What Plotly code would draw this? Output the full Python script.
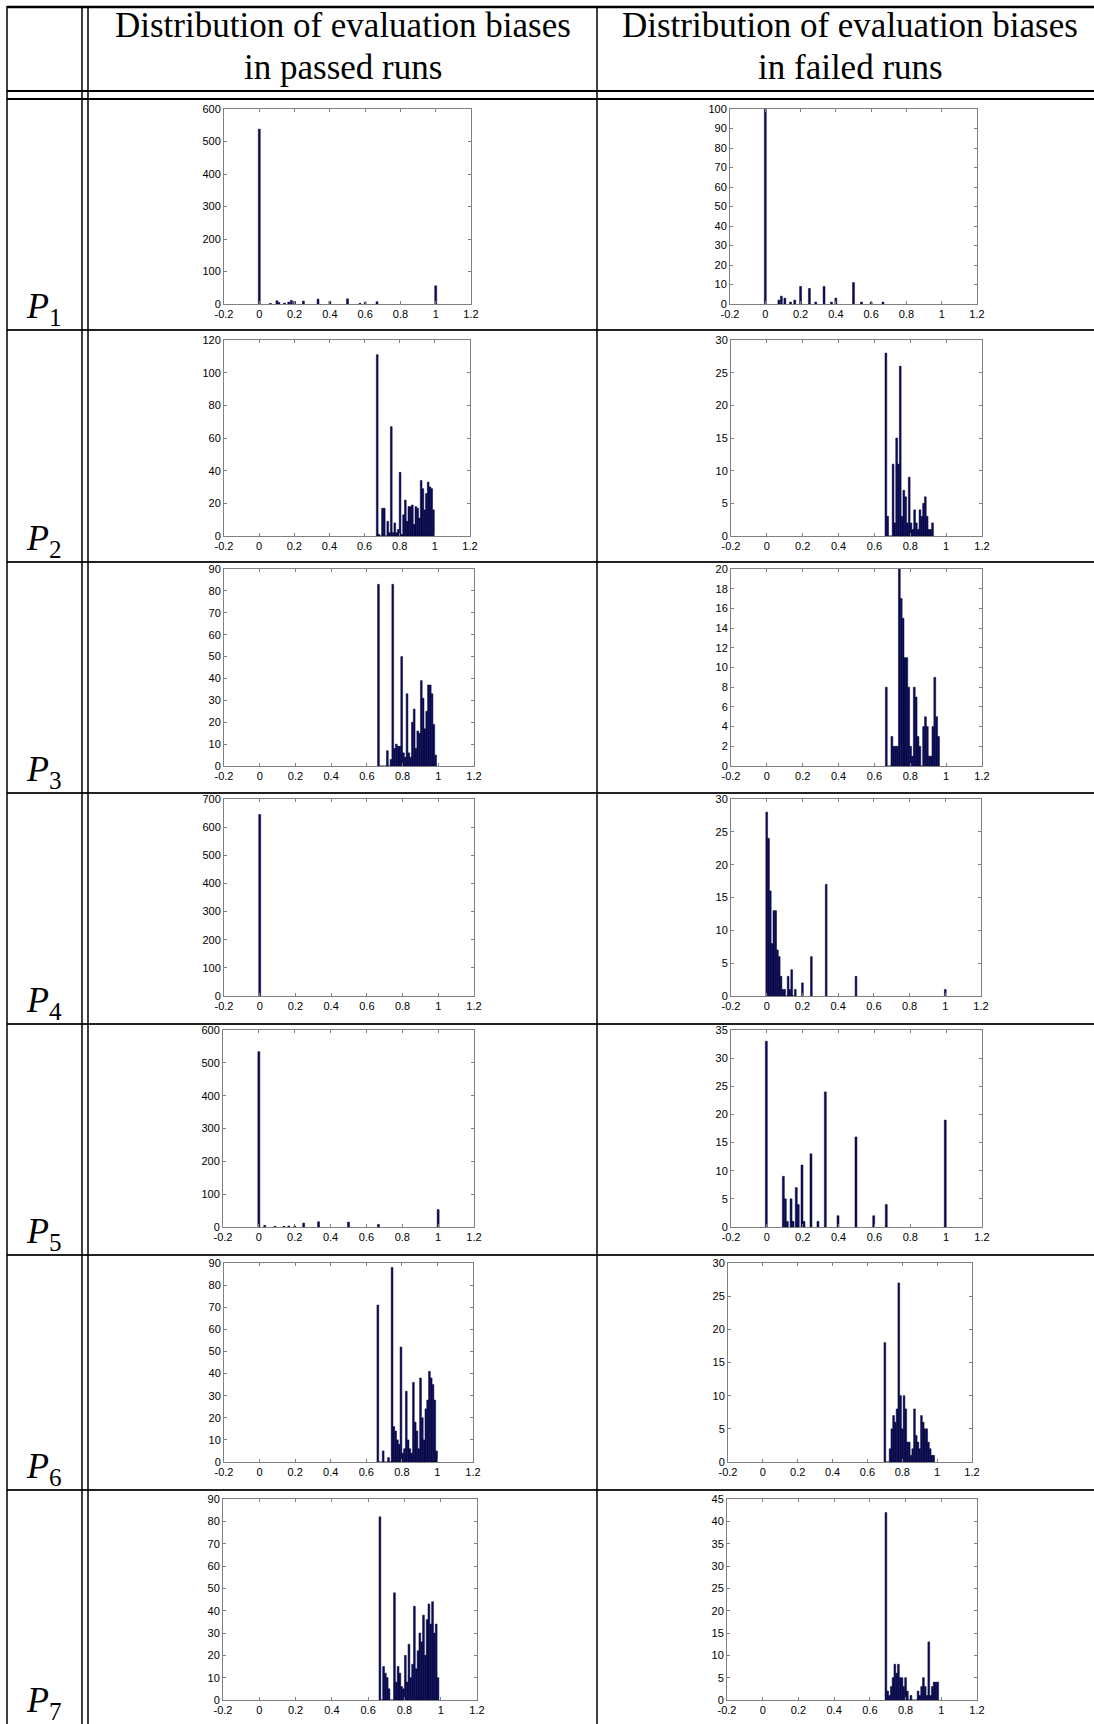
import plotly.graph_objects as go

W, H = 1094, 1724

# ---------------- data ----------------
HEADER_PASSED = ["Distribution of evaluation biases", "in passed runs"]
HEADER_FAILED = ["Distribution of evaluation biases", "in failed runs"]
ROW_LABELS = ["1", "2", "3", "4", "5", "6", "7"]

X_TICKS = [-0.2, 0, 0.2, 0.4, 0.6, 0.8, 1.0, 1.2]
X_TICK_LABELS = ["-0.2", "0", "0.2", "0.4", "0.6", "0.8", "1", "1.2"]

# sparse panels: explicit bias values and counts
P1_PASSED_X = [0, 0.063, 0.1, 0.111, 0.143, 0.167, 0.182, 0.2, 0.25, 0.333, 0.4, 0.5, 0.571, 0.6, 0.667, 1.0]
P1_PASSED_Y = [538, 2, 10, 5, 3, 6, 11, 8, 9, 15, 8, 16, 2, 5, 7, 56]
P1_FAILED_X = [0, 0.077, 0.091, 0.111, 0.143, 0.167, 0.2, 0.25, 0.286, 0.333, 0.375, 0.4, 0.5, 0.545, 0.6, 0.667]
P1_FAILED_Y = [100, 2, 4, 3, 1, 2, 9, 8, 1, 9, 1, 3, 11, 1, 1, 1]

P4_PASSED_X = [0]
P4_PASSED_Y = [645]
P4_FAILED_X = [0, 0.01, 0.02, 0.03, 0.04, 0.05, 0.06, 0.07, 0.08, 0.09, 0.10, 0.11, 0.12, 0.13, 0.14, 0.15, 0.16,
               0.2, 0.25, 0.333, 0.5, 1.0]
P4_FAILED_Y = [28, 24, 16, 8, 13, 13, 7, 6, 3, 1, 1, 0, 3, 1, 4, 0, 1,
               2, 6, 17, 3, 1]

P5_PASSED_X = [0, 0.033, 0.09, 0.14, 0.167, 0.2, 0.25, 0.333, 0.5, 0.667, 1.0]
P5_PASSED_Y = [534, 5, 2, 2, 3, 3, 12, 16, 15, 8, 53]
P5_FAILED_X = [-0.003, 0.092, 0.103, 0.114, 0.135, 0.146, 0.164, 0.175, 0.196, 0.207, 0.246, 0.285, 0.326,
               0.397, 0.497, 0.596, 0.666, 0.995]
P5_FAILED_Y = [33, 9, 5, 1, 5, 1, 7, 4, 11, 1, 13, 1, 24, 2, 16, 2, 4, 19]

# dense panels: histogram counts per bin, with first bin edge and bin width
P2_PASSED_START, P2_PASSED_BIN = 0.667, 0.01
P2_PASSED_Y = [111, 1, 0, 17, 17, 0, 9, 2, 67, 2, 8, 2, 4, 39, 1, 13, 22, 9, 18, 18, 19, 7, 18, 17, 11,
               34, 29, 16, 26, 33, 30, 29, 16]
P2_FAILED_START, P2_FAILED_BIN = 0.659, 0.01
P2_FAILED_Y = [28, 3, 0, 0, 11, 2, 15, 11, 26, 3, 7, 6, 2, 9, 2, 1, 4, 2, 1, 4, 3, 5, 6, 3, 1, 1, 2]

P3_PASSED_START, P3_PASSED_BIN = 0.66, 0.01
P3_PASSED_Y = [83, 0, 0, 0, 0, 7, 0, 3, 83, 8, 10, 9, 9, 50, 6, 4, 33, 6, 4, 20, 26, 8, 16, 15, 39, 31,
               17, 25, 37, 37, 33, 19, 5]
P3_FAILED_START, P3_FAILED_BIN = 0.661, 0.0104
P3_FAILED_Y = [8, 0, 0, 3, 2, 2, 2, 20, 17, 15, 11, 11, 8, 2, 1, 8, 7, 3, 2, 0, 4, 5, 4, 1, 1, 4, 9, 5, 3]

P6_PASSED_START, P6_PASSED_BIN = 0.66, 0.01
P6_PASSED_Y = [71, 0, 0, 5, 0, 0, 2, 0, 88, 16, 14, 10, 8, 52, 4, 6, 32, 10, 6, 4, 36, 18, 14, 6, 38, 20,
               10, 24, 28, 41, 38, 35, 28, 5]
P6_FAILED_START, P6_FAILED_BIN = 0.695, 0.01
P6_FAILED_Y = [18, 0, 0, 2, 5, 7, 6, 8, 27, 10, 5, 10, 8, 3, 3, 1, 2, 8, 4, 3, 2, 7, 6, 5, 5, 3, 2, 1, 1]

P7_PASSED_START, P7_PASSED_BIN = 0.66, 0.01
P7_PASSED_Y = [82, 0, 15, 12, 10, 5, 0, 0, 48, 8, 15, 12, 6, 5, 20, 8, 25, 10, 16, 42, 14, 22, 30, 26, 38,
               20, 36, 43, 34, 44, 30, 34, 10]
P7_FAILED_START, P7_FAILED_BIN = 0.685, 0.01
P7_FAILED_Y = [42, 2, 1, 3, 5, 8, 6, 8, 5, 5, 3, 5, 2, 0, 1, 0, 0, 0, 2, 1, 3, 5, 3, 1, 13, 1, 3, 4, 4, 4]

# y-axis ranges and tick step per panel (passed, failed)
Y_MAX = [(600, 100), (120, 30), (90, 20), (700, 30), (600, 35), (90, 30), (90, 45)]
Y_STEP = [(100, 10), (20, 5), (10, 2), (100, 5), (100, 5), (10, 5), (10, 5)]

# ---------------- layout geometry (pixels) ----------------
ROW_LINES = [330, 562, 793, 1024, 1255, 1490]
ROW_BOTTOMS = [330, 562, 793, 1024, 1255, 1490, 1724]
# (passed_left, passed_right, failed_left, failed_right, top, bottom)
BOXES = [
    (224, 471, 730, 977, 109, 304),
    (224, 470, 731, 982, 340, 536),
    (224, 474, 731, 982, 569, 766),
    (224, 474, 731, 981, 799, 996),
    (223, 474, 731, 982, 1030, 1227),
    (224, 473, 728, 972, 1263, 1462),
    (223, 477, 727, 977, 1499, 1700),
]

BAR_FILL = "#0b0b60"
BAR_EDGE = "#00002a"
AX_COLOR = "#808080"
TICK_FONT = dict(family="Liberation Sans, Arial, sans-serif", size=11, color="#000000")
SERIF = "Liberation Serif, Times New Roman, serif"


def px_x(p):
    return p / W


def px_y(p):
    return 1 - p / H


fig = go.Figure()

sparse = {
    (0, 0): (P1_PASSED_X, P1_PASSED_Y), (0, 1): (P1_FAILED_X, P1_FAILED_Y),
    (3, 0): (P4_PASSED_X, P4_PASSED_Y), (3, 1): (P4_FAILED_X, P4_FAILED_Y),
    (4, 0): (P5_PASSED_X, P5_PASSED_Y), (4, 1): (P5_FAILED_X, P5_FAILED_Y),
}
dense = {
    (1, 0): (P2_PASSED_START, P2_PASSED_BIN, P2_PASSED_Y), (1, 1): (P2_FAILED_START, P2_FAILED_BIN, P2_FAILED_Y),
    (2, 0): (P3_PASSED_START, P3_PASSED_BIN, P3_PASSED_Y), (2, 1): (P3_FAILED_START, P3_FAILED_BIN, P3_FAILED_Y),
    (5, 0): (P6_PASSED_START, P6_PASSED_BIN, P6_PASSED_Y), (5, 1): (P6_FAILED_START, P6_FAILED_BIN, P6_FAILED_Y),
    (6, 0): (P7_PASSED_START, P7_PASSED_BIN, P7_PASSED_Y), (6, 1): (P7_FAILED_START, P7_FAILED_BIN, P7_FAILED_Y),
}

layout_axes = {}
idx = 0
for r in range(7):
    pl, pr, fl, fr, top, bot = BOXES[r]
    for c in range(2):
        idx += 1
        xa = "x" if idx == 1 else f"x{idx}"
        ya = "y" if idx == 1 else f"y{idx}"
        left, right = (pl, pr) if c == 0 else (fl, fr)
        marker = dict(color=BAR_FILL, line=dict(color=BAR_EDGE, width=0.5))
        if (r, c) in sparse:
            xs, ys = sparse[(r, c)]
            wdt = 0.011 if not (r == 3 and c == 1) else 0.0099
            fig.add_trace(go.Bar(x=xs, y=ys, width=wdt, marker=marker, xaxis=xa, yaxis=ya,
                                 showlegend=False, hoverinfo="skip"))
        else:
            start, binw, ys = dense[(r, c)]
            fig.add_trace(go.Bar(x0=start + binw / 2, dx=binw, y=ys, width=binw, marker=marker,
                                 xaxis=xa, yaxis=ya, showlegend=False, hoverinfo="skip"))
        common = dict(showline=True, linecolor=AX_COLOR, linewidth=1, mirror="ticks",
                      ticks="inside", ticklen=3, tickcolor=AX_COLOR, tickwidth=1,
                      showgrid=False, zeroline=False, tickfont=TICK_FONT, fixedrange=True,
                      automargin=False)
        layout_axes["xaxis" if idx == 1 else f"xaxis{idx}"] = dict(
            domain=[px_x(left), px_x(right)], range=[-0.2, 1.2], anchor=ya,
            tickmode="array", tickvals=X_TICKS, ticktext=X_TICK_LABELS, **common)
        layout_axes["yaxis" if idx == 1 else f"yaxis{idx}"] = dict(
            domain=[px_y(bot), px_y(top)], range=[0, Y_MAX[r][c]], anchor=xa,
            tickmode="linear", tick0=0, dtick=Y_STEP[r][c], **common)

shapes = []
LINE = "#000000"
# horizontal lines
shapes.append(dict(type="line", xref="paper", yref="paper", x0=px_x(7), x1=1, y0=px_y(7), y1=px_y(7),
                   line=dict(color=LINE, width=2.5)))
for yy in (91, 99):
    shapes.append(dict(type="line", xref="paper", yref="paper", x0=px_x(7), x1=1, y0=px_y(yy), y1=px_y(yy),
                       line=dict(color=LINE, width=2)))
for yy in ROW_LINES:
    shapes.append(dict(type="line", xref="paper", yref="paper", x0=px_x(7), x1=1, y0=px_y(yy), y1=px_y(yy),
                       line=dict(color="#222222", width=2)))
# vertical lines
for xx in (7, 82, 88, 597):
    shapes.append(dict(type="line", xref="paper", yref="paper", x0=px_x(xx), x1=px_x(xx), y0=px_y(6), y1=0,
                       line=dict(color=LINE, width=1.5)))

annotations = []
HEAD_FONT = dict(family=SERIF, size=35, color="#000000")
for cx, lines in ((343, HEADER_PASSED), (850, HEADER_FAILED)):
    for k, (txt, cy) in enumerate(zip(lines, (25, 68))):
        annotations.append(dict(text=txt, x=px_x(cx), y=px_y(cy), xref="paper", yref="paper",
                                xanchor="center", yanchor="middle", showarrow=False, font=HEAD_FONT))
for r, lab in enumerate(ROW_LABELS):
    annotations.append(dict(text=f"<i>P</i><sub>{lab}</sub>", x=px_x(24), y=px_y(ROW_BOTTOMS[r] + 3),
                            xref="paper", yref="paper", xanchor="left", yanchor="bottom", showarrow=False,
                            font=dict(family=SERIF, size=36, color="#000000")))

fig.update_layout(width=W, height=H, margin=dict(l=0, r=0, t=0, b=0, pad=0, autoexpand=False),
                  paper_bgcolor="white", plot_bgcolor="white", shapes=shapes, annotations=annotations,
                  bargap=0, showlegend=False, hovermode=False, **layout_axes)

fig.write_html("out.html", config={"displayModeBar": False, "staticPlot": True},
               post_script="document.body.style.margin='0px';document.body.style.overflow='hidden';")
